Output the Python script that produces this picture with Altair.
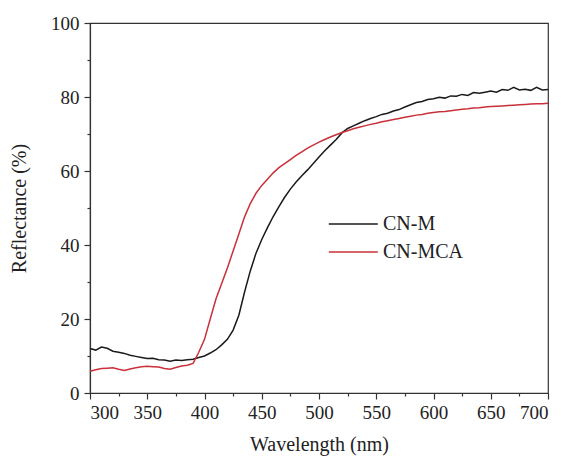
import altair as alt
import pandas as pd

wavelength = list(range(300, 705, 5))

cn_m = [12.0, 11.6, 12.4, 12.1, 11.3, 11.0, 10.7, 10.2, 9.9, 9.6,
        9.3, 9.4, 9.0, 8.9, 8.6, 8.9, 8.8, 9.0, 9.1, 9.6,
        10.0, 10.8, 11.7, 13.0, 14.5, 17.0, 21.0, 27.3, 33.0, 37.8,
        41.5, 44.7, 47.7, 50.4, 52.9, 55.1, 57.0, 58.7, 60.3, 62.0,
        63.8, 65.5, 67.0, 68.5, 70.3, 71.5, 72.2, 72.9, 73.6, 74.2,
        74.7, 75.3, 75.6, 76.2, 76.6, 77.3, 77.9, 78.5, 78.8, 79.3,
        79.5, 79.9, 79.7, 80.3, 80.2, 80.7, 80.4, 81.2, 81.0, 81.3,
        81.6, 81.3, 82.0, 81.8, 82.6, 81.9, 82.1, 81.8, 82.6, 81.9,
        82.0]

cn_mca = [5.9, 6.3, 6.6, 6.7, 6.8, 6.4, 6.1, 6.5, 6.8, 7.1,
          7.2, 7.1, 7.0, 6.6, 6.4, 6.9, 7.3, 7.5, 8.0, 11.0,
          14.5, 20.0, 25.4, 29.6, 33.8, 38.4, 43.0, 47.6, 51.2, 54.0,
          56.1, 57.8, 59.5, 60.9, 62.0, 63.1, 64.2, 65.2, 66.2, 67.0,
          67.8, 68.5, 69.2, 69.8, 70.4, 70.9, 71.4, 71.8, 72.2, 72.6,
          72.9, 73.3, 73.6, 73.9, 74.2, 74.5, 74.8, 75.1, 75.3, 75.6,
          75.8, 76.0, 76.1, 76.3, 76.5, 76.7, 76.8, 77.0, 77.1, 77.3,
          77.4, 77.5, 77.6, 77.7, 77.8, 77.9, 78.0, 78.1, 78.2, 78.2,
          78.3]

series_names = ["CN-M", "CN-MCA"]
series_colors = ["#1a1a1a", "#c8303a"]

rows = []
for name, vals in zip(series_names, [cn_m, cn_mca]):
    for w, v in zip(wavelength, vals):
        rows.append({"Wavelength": w, "Reflectance": v, "Sample": name})
df = pd.DataFrame(rows)

FONT = "Liberation Serif"

chart = alt.Chart(df).mark_line(strokeWidth=1.5).encode(
    x=alt.X("Wavelength:Q",
            scale=alt.Scale(domain=[300, 700], nice=False),
            axis=alt.Axis(title="Wavelength (nm)",
                          values=list(range(300, 725, 25)),
                          labelExpr="datum.value % 50 === 0 ? datum.label : ''",
                          tickSize={"expr": "datum.value % 50 === 0 ? 6 : 3"},
                          grid=False, labelPadding=4, titlePadding=12)),
    y=alt.Y("Reflectance:Q",
            scale=alt.Scale(domain=[0, 100], nice=False),
            axis=alt.Axis(title="Reflectance (%)",
                          values=list(range(0, 110, 10)),
                          labelExpr="datum.value % 20 === 0 ? datum.label : ''",
                          tickSize={"expr": "datum.value % 20 === 0 ? 6 : 3"},
                          grid=False, labelPadding=5, titlePadding=21)),
    color=alt.Color("Sample:N",
                    scale=alt.Scale(domain=series_names, range=series_colors),
                    legend=alt.Legend(title=None, orient="none",
                                      legendX=267, legendY=190,
                                      symbolType="M-4,0H1", symbolSize=384,
                                      symbolStrokeWidth=1.5,
                                      labelFont=FONT, labelFontSize=20,
                                      labelColor="#222", labelOffset=4,
                                      rowPadding=7, padding=0)),
    order=alt.Order("Wavelength:Q"),
).properties(
    width=458, height=370,
    background="white",
    autosize=alt.AutoSizeParams(type="none"),
    padding={"left": 82, "top": 15, "right": 7, "bottom": 64},
).configure_view(
    stroke="#333", strokeWidth=1.2
).configure_axis(
    labelFont=FONT, titleFont=FONT, labelFontSize=19, titleFontSize=20,
    titleFontWeight="normal", labelColor="#222", titleColor="#222",
    domainColor="#333", tickColor="#333", domainWidth=1.2, tickWidth=1.2,
)

chart.save("out.html", embed_options={"renderer": "svg", "actions": False})
